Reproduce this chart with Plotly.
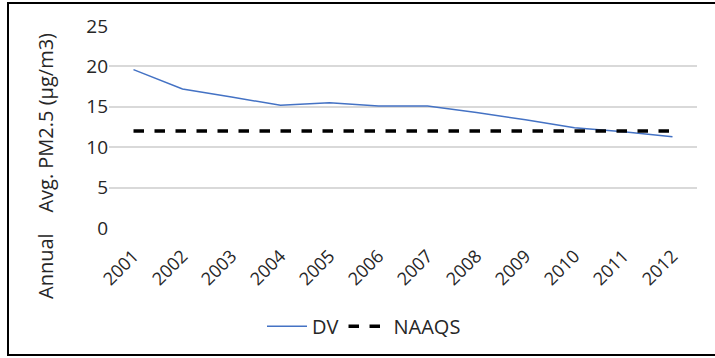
import plotly.graph_objects as go

years = ["2001", "2002", "2003", "2004", "2005", "2006", "2007", "2008", "2009", "2010", "2011", "2012"]
dv = [19.6, 17.2, 16.2, 15.2, 15.5, 15.1, 15.1, 14.3, 13.4, 12.4, 11.9, 11.3]
naaqs = [12, 12, 12, 12, 12, 12, 12, 12, 12, 12, 12, 12]
y_ticks = [0, 5, 10, 15, 20, 25]
y_title = "Annual&nbsp;&nbsp;&nbsp; Avg. PM2.5 (µg/m3)"

font_family = "Open Sans, Noto Sans, sans-serif"

fig = go.Figure()
fig.add_trace(go.Scatter(x=years, y=dv, mode="lines", name="DV",
                         line=dict(color="#4472C4", width=1.5)))
fig.add_trace(go.Scatter(x=years, y=naaqs, mode="lines", name="NAAQS",
                         line=dict(color="black", width=3.5, dash="dash")))

fig.update_layout(
    width=715, height=358,
    margin=dict(l=109, r=18, t=26, b=130),
    paper_bgcolor="white", plot_bgcolor="white",
    font=dict(family=font_family, size=18, color="#262626"),
    showlegend=True,
    legend=dict(orientation="h", x=(364 - 109) / 588, xanchor="center", y=-0.39, yanchor="top",
                font=dict(size=20, color="#262626"), itemwidth=40),
    xaxis=dict(type="category", range=[-0.5, 11.5], tickangle=-45, automargin=False,
               showgrid=False, zeroline=False, showline=False, ticks="",
               ticklabelstandoff=13, tickfont=dict(size=18)),
    yaxis=dict(range=[0, 25], tickvals=y_ticks, showgrid=True, automargin=False,
               gridcolor="#D9D9D9", gridwidth=1.5, zeroline=False, showline=False,
               ticks="", tickfont=dict(size=19)),
    annotations=[dict(text=y_title, textangle=-90, showarrow=False,
                      xref="paper", yref="paper",
                      x=(45 - 109) / 588, xanchor="center",
                      y=(228 - 166) / 202, yanchor="middle",
                      font=dict(size=20, color="#262626"))],
    shapes=[dict(type="rect", xref="paper", yref="paper",
                 x0=(8 - 109) / 588, x1=(720 - 109) / 588,
                 y0=-(355 - 228) / 202, y1=1 + (26 - 3) / 202,
                 line=dict(color="black", width=2), layer="below")],
)

fig.write_html("out.html", config={"displayModeBar": False},
               post_script="document.body.style.margin='0';")
